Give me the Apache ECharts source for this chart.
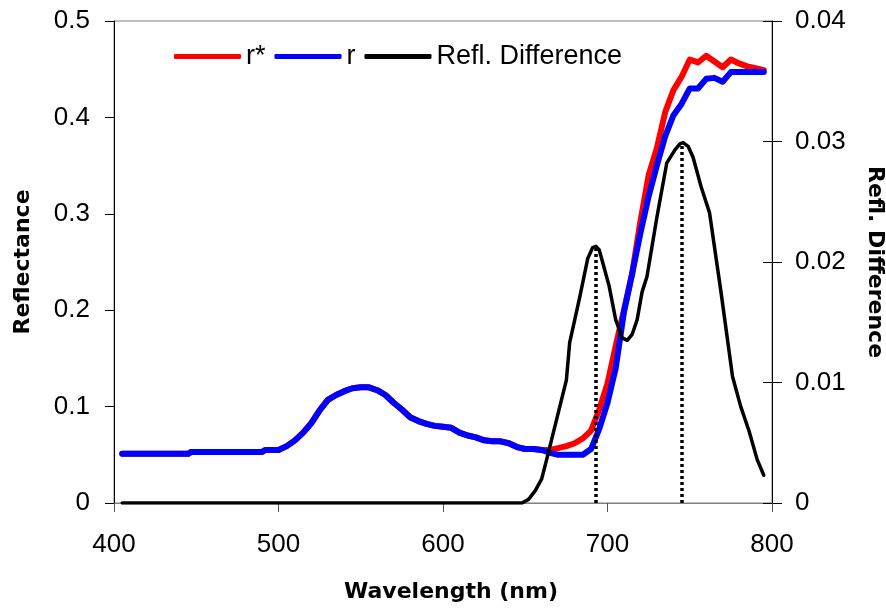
<!DOCTYPE html>
<html>
<head>
<meta charset="utf-8">
<script src="https://cdn.jsdelivr.net/npm/echarts@6/dist/echarts.min.js"></script>
<style>
  html, body { margin: 0; padding: 0; background: #fff; }
  #chart { width: 886px; height: 608px; }
</style>
</head>
<body>
<div id="chart"></div>
<script>
// Wavelength samples (nm) shared by the two reflectance curves
const wavelengths = [405, 445, 447, 490, 492, 500, 505, 510, 515, 520, 525, 530, 535, 540, 545,
  550, 555, 560, 565, 570, 575, 580, 585, 590, 595, 600, 605, 610, 615, 620, 625, 630, 635, 640,
  645, 650, 655, 660, 665, 670, 675, 680, 685, 690, 695, 700, 705, 710, 715, 720, 725, 730, 735,
  740, 745, 750, 755, 760, 765, 770, 775, 780, 785, 790, 795];

// Reflectance r
const rValues = [0.051, 0.051, 0.053, 0.053, 0.055, 0.055, 0.059, 0.065, 0.073, 0.083, 0.096, 0.107,
  0.112, 0.116, 0.119, 0.120, 0.120, 0.117, 0.112, 0.104, 0.097, 0.089, 0.085, 0.082, 0.080, 0.079,
  0.078, 0.073, 0.070, 0.068, 0.065, 0.064, 0.064, 0.062, 0.058, 0.056, 0.056, 0.055, 0.052, 0.050,
  0.050, 0.050, 0.050, 0.056, 0.077, 0.104, 0.140, 0.198, 0.238, 0.280, 0.318, 0.350, 0.380, 0.402,
  0.414, 0.430, 0.430, 0.440, 0.441, 0.437, 0.447, 0.447, 0.447, 0.447, 0.447];

// Reflectance r*
const rStarValues = [0.051, 0.051, 0.053, 0.053, 0.055, 0.055, 0.059, 0.065, 0.073, 0.083, 0.096, 0.107,
  0.112, 0.116, 0.119, 0.120, 0.120, 0.117, 0.112, 0.104, 0.097, 0.089, 0.085, 0.082, 0.080, 0.079,
  0.078, 0.073, 0.070, 0.068, 0.065, 0.064, 0.064, 0.062, 0.058, 0.056, 0.056, 0.055, 0.055, 0.057,
  0.059, 0.062, 0.067, 0.075, 0.097, 0.124, 0.163, 0.200, 0.238, 0.292, 0.340, 0.368, 0.405, 0.428,
  0.442, 0.460, 0.457, 0.464, 0.458, 0.452, 0.460, 0.456, 0.453, 0.451, 0.449];

// Reflectance difference (right axis)
const diffWavelengths = [405, 648, 652, 656, 660, 663, 667, 671, 675, 677, 683, 688, 691, 693, 695,
  697, 701, 705, 709, 712, 715, 718, 721, 724, 730, 736, 741, 744, 746, 749, 752, 757, 762, 769,
  776, 781, 786, 791, 795];
const diffValues = [0, 0, 0.0003, 0.0010, 0.0020, 0.0036, 0.0058, 0.0080, 0.0102, 0.0133, 0.0170,
  0.0203, 0.0212, 0.0213, 0.0210, 0.0200, 0.0180, 0.0152, 0.0137, 0.0135, 0.0140, 0.0152, 0.0175,
  0.0188, 0.0237, 0.0282, 0.0293, 0.0298, 0.0299, 0.0296, 0.0287, 0.0262, 0.0241, 0.0175, 0.0105,
  0.0080, 0.0060, 0.0036, 0.0023];

// Peaks of the difference curve, marked with dotted drop lines
const peakWavelengths = [693, 745];
const peakValues = [0.0213, 0.0299];

const seriesNames = ['r*', 'r', 'Refl. Difference'];

const pair = (xs, ys) => xs.map((x, i) => [x, ys[i]]);

const tickFont = { fontFamily: '"Liberation Sans", Arial, sans-serif', fontSize: 26, color: '#000' };
const nameFont = { fontFamily: '"DejaVu Sans", sans-serif', fontWeight: 'bold', fontSize: 22, color: '#000' };

const chart = echarts.init(document.getElementById('chart'), null, { renderer: 'canvas' });

chart.setOption({
  animation: false,
  backgroundColor: '#fff',
  grid: {
    left: 114, right: 114, top: 21, bottom: 105,
    outerBoundsMode: 'none', containLabel: false,
    show: true, borderColor: '#808080', borderWidth: 1, backgroundColor: 'transparent'
  },
  legend: {
    data: [
      { name: seriesNames[0], icon: 'roundRect' },
      { name: seriesNames[1], icon: 'roundRect' },
      { name: seriesNames[2], icon: 'roundRect' }
    ],
    left: 169, top: 38,
    itemWidth: 67, itemHeight: 5, itemGap: 9,
    textStyle: { fontFamily: '"Liberation Sans", Arial, sans-serif', fontSize: 27, color: '#000' }
  },
  xAxis: {
    type: 'value', min: 400, max: 800, interval: 100,
    name: 'Wavelength (nm)', nameLocation: 'middle', nameGap: 78,
    nameTextStyle: Object.assign({ padding: [0, 0, 0, 16] }, nameFont),
    axisLine: { lineStyle: { color: '#808080', width: 1 } },
    axisTick: { inside: false, length: 9, lineStyle: { color: '#555' } },
    axisLabel: Object.assign({ margin: 29 }, tickFont),
    splitLine: { show: false }
  },
  yAxis: [
    {
      type: 'value', position: 'left', min: 0, max: 0.5, interval: 0.1,
      name: 'Reflectance', nameLocation: 'middle', nameGap: 80, nameRotate: 90,
      nameTextStyle: nameFont,
      axisLine: { show: true, lineStyle: { color: '#000', width: 1 } },
      axisTick: { show: true, inside: false, length: 9, lineStyle: { color: '#000' } },
      axisLabel: Object.assign({ margin: 24 }, tickFont),
      splitLine: { show: false }
    },
    {
      type: 'value', position: 'right', min: 0, max: 0.04, interval: 0.01,
      name: 'Refl. Difference', nameLocation: 'middle', nameGap: 92, nameRotate: -90,
      nameTextStyle: nameFont,
      axisLine: { show: true, lineStyle: { color: '#000', width: 1 } },
      axisTick: { show: true, inside: false, length: 10, lineStyle: { color: '#000' } },
      axisLabel: Object.assign({ margin: 23 }, tickFont),
      splitLine: { show: false }
    },
    {
      // inward half of the right axis' crossing tick marks
      type: 'value', position: 'right', min: 0, max: 0.04, interval: 0.01,
      axisLine: { show: false },
      axisTick: { show: true, inside: true, length: 9, lineStyle: { color: '#000' } },
      axisLabel: { show: false },
      splitLine: { show: false }
    }
  ],
  series: [
    {
      name: seriesNames[0], type: 'line', yAxisIndex: 0,
      data: pair(wavelengths, rStarValues),
      showSymbol: false, symbol: 'none',
      color: '#ff0000',
      lineStyle: { color: '#ff0000', width: 6, cap: 'round', join: 'round' },
      z: 2
    },
    {
      name: seriesNames[1], type: 'line', yAxisIndex: 0,
      data: pair(wavelengths, rValues),
      showSymbol: false, symbol: 'none',
      color: '#0000ff',
      lineStyle: { color: '#0000ff', width: 6, cap: 'round', join: 'round' },
      z: 3
    },
    {
      name: seriesNames[2], type: 'line', yAxisIndex: 1,
      data: pair(diffWavelengths, diffValues),
      showSymbol: false, symbol: 'none',
      color: '#000000',
      lineStyle: { color: '#000', width: 3.5, cap: 'round', join: 'round' },
      z: 4,
      markLine: {
        silent: true,
        symbol: ['none', 'none'],
        label: { show: false },
        lineStyle: { color: '#000', width: 3.5, type: [3, 3] },
        data: peakWavelengths.map((w, i) => [
          { coord: [w, 0] },
          { coord: [w, peakValues[i]] }
        ])
      }
    }
  ]
});
</script>
</body>
</html>
